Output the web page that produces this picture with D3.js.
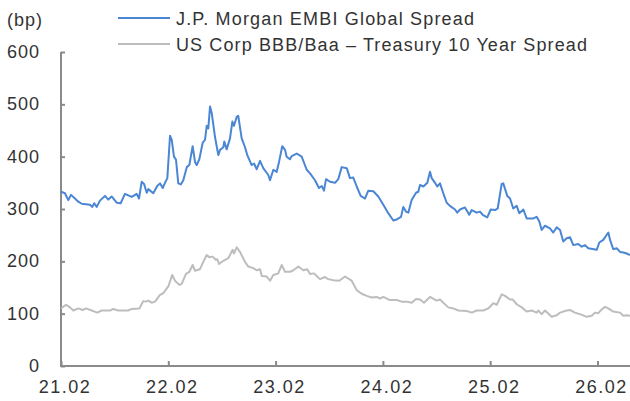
<!DOCTYPE html>
<html><head><meta charset="utf-8">
<script src="https://cdn.jsdelivr.net/npm/d3@7"></script>
<style>body{margin:0;background:#fff}svg{display:block}text{font-family:"Liberation Sans",Arial,sans-serif;fill:#333}</style>
</head><body>
<script>
// decimal-year dates
const embiDates = [2021.083,2021.120,2021.151,2021.176,2021.213,2021.244,2021.276,2021.353,2021.375,2021.393,2021.416,2021.446,2021.493,2021.524,2021.555,2021.602,2021.639,2021.679,2021.742,2021.788,2021.810,2021.835,2021.857,2021.882,2021.897,2021.943,2021.980,2022.006,2022.031,2022.052,2022.074,2022.099,2022.115,2022.136,2022.155,2022.176,2022.199,2022.223,2022.255,2022.279,2022.310,2022.332,2022.348,2022.372,2022.404,2022.425,2022.441,2022.456,2022.472,2022.488,2022.518,2022.549,2022.565,2022.596,2022.605,2022.627,2022.658,2022.680,2022.695,2022.721,2022.735,2022.767,2022.798,2022.819,2022.860,2022.882,2022.907,2022.938,2022.968,2023.015,2023.031,2023.062,2023.093,2023.115,2023.145,2023.171,2023.186,2023.217,2023.233,2023.280,2023.326,2023.373,2023.404,2023.450,2023.487,2023.513,2023.534,2023.553,2023.590,2023.637,2023.667,2023.699,2023.746,2023.776,2023.807,2023.839,2023.876,2023.916,2023.947,2023.994,2024.040,2024.087,2024.133,2024.180,2024.212,2024.252,2024.273,2024.298,2024.320,2024.351,2024.392,2024.413,2024.429,2024.460,2024.497,2024.522,2024.538,2024.569,2024.590,2024.615,2024.646,2024.678,2024.708,2024.755,2024.776,2024.802,2024.848,2024.888,2024.911,2024.957,2024.988,2025.013,2025.056,2025.088,2025.128,2025.153,2025.190,2025.205,2025.242,2025.268,2025.298,2025.330,2025.354,2025.392,2025.423,2025.485,2025.516,2025.541,2025.563,2025.594,2025.640,2025.671,2025.703,2025.734,2025.764,2025.796,2025.827,2025.858,2025.904,2025.936,2025.967,2025.997,2026.076,2026.100,2026.137,2026.184,2026.200,2026.230,2026.262,2026.293,2026.324,2026.355,2026.386];
const embiValues = [333,330,317,327,320,314,310,308,304,311,304,316,325,318,324,312,311,329,323,329,320,352,348,331,338,330,344,349,340,350,359,440,432,400,394,349,347,355,380,384,420,390,384,395,427,432,459,454,496,483,438,403,413,418,429,414,435,467,459,476,478,435,418,403,384,387,376,392,378,365,355,375,371,390,420,413,400,395,401,406,400,375,368,355,340,344,335,357,352,350,357,380,378,359,360,343,325,320,335,334,324,308,292,278,280,285,304,295,293,317,331,333,346,343,350,371,359,350,343,349,330,312,306,299,293,299,303,289,298,293,295,289,284,299,298,301,348,349,325,320,301,306,292,299,282,282,285,276,260,268,263,255,265,260,238,244,246,231,233,228,231,225,222,236,241,255,241,223,225,218,217,215,212];

const corpDates = [2021.083,2021.130,2021.167,2021.198,2021.244,2021.285,2021.316,2021.369,2021.421,2021.462,2021.540,2021.570,2021.617,2021.710,2021.742,2021.813,2021.850,2021.875,2021.897,2021.928,2021.959,2022.006,2022.036,2022.083,2022.120,2022.145,2022.186,2022.208,2022.248,2022.279,2022.310,2022.332,2022.378,2022.409,2022.441,2022.465,2022.497,2022.525,2022.540,2022.556,2022.596,2022.642,2022.683,2022.695,2022.721,2022.751,2022.798,2022.829,2022.875,2022.907,2022.938,2022.954,2023.000,2023.031,2023.062,2023.108,2023.140,2023.171,2023.217,2023.248,2023.295,2023.341,2023.378,2023.404,2023.441,2023.466,2023.497,2023.543,2023.574,2023.621,2023.677,2023.730,2023.792,2023.839,2023.885,2023.932,2023.979,2024.025,2024.056,2024.087,2024.149,2024.212,2024.258,2024.305,2024.351,2024.392,2024.429,2024.466,2024.522,2024.584,2024.615,2024.646,2024.693,2024.739,2024.786,2024.864,2024.911,2024.957,2025.019,2025.065,2025.112,2025.144,2025.190,2025.221,2025.268,2025.293,2025.330,2025.377,2025.423,2025.470,2025.516,2025.531,2025.563,2025.594,2025.656,2025.703,2025.734,2025.796,2025.827,2025.873,2025.920,2025.982,2026.029,2026.060,2026.090,2026.122,2026.153,2026.184,2026.230,2026.293,2026.324,2026.355,2026.386];
const corpValues = [110,117,112,106,110,107,110,106,102,106,106,109,106,106,109,110,124,123,125,121,123,136,139,152,174,163,155,157,176,180,193,182,185,199,212,208,209,203,204,195,201,206,222,215,227,218,199,190,187,183,185,172,171,163,174,177,193,180,180,183,190,183,185,176,177,172,166,170,166,164,163,171,163,145,138,134,131,132,129,132,126,126,123,123,121,128,127,121,132,125,127,121,112,110,106,105,102,106,106,110,120,117,137,134,127,127,118,112,104,106,102,106,99,106,94,97,102,106,107,102,99,94,96,102,101,108,113,110,104,102,96,97,96];

const xTickValues = [2021.083,2022.083,2023.083,2024.083,2025.083,2026.083];
const xTickLabels = ["21.02","22.02","23.02","24.02","25.02","26.02"];
const yTickValues = [0,100,200,300,400,500,600];
const seriesNames = ["J.P. Morgan EMBI Global Spread","US Corp BBB/Baa \u2013 Treasury 10 Year Spread"];
const seriesColors = ["#4a86d4","#bdbdbd"];

const W = 630, H = 401;
const svg = d3.select("body").append("svg").attr("width", W).attr("height", H);
const x = d3.scaleLinear().domain([2021.083, 2026.386]).range([61, 630]);
const y = d3.scaleLinear().domain([0, 600]).range([366, 52]);

const axisColor = "#8a8a8a";
// y axis
const gy = svg.append("g").attr("transform", "translate(61,0)")
  .call(d3.axisRight(y).tickValues(yTickValues).tickSize(4).tickFormat(""));
gy.select(".domain").attr("stroke", axisColor).attr("stroke-width", 2).attr("d", `M0,${y(600)}V${y(0)}`);
gy.selectAll(".tick line").attr("stroke", axisColor).attr("stroke-width", 2);
svg.append("g").selectAll("text").data(yTickValues).join("text")
  .attr("x", 40).attr("y", d => y(d) + 6).attr("text-anchor", "end")
  .attr("font-size", 18).style("letter-spacing", "1px").text(d => d);

// x axis
const gx = svg.append("g").attr("transform", "translate(0,366)")
  .call(d3.axisTop(x).tickValues(xTickValues).tickSize(5).tickFormat(""));
gx.select(".domain").attr("stroke", axisColor).attr("stroke-width", 2).attr("d", `M60,0H630`);
gx.selectAll(".tick line").attr("stroke", axisColor).attr("stroke-width", 2);
svg.append("g").selectAll("text").data(xTickValues).join("text")
  .attr("x", d => x(d) + 4).attr("y", 393).attr("text-anchor", "middle")
  .attr("font-size", 18).style("letter-spacing", "1.5px").text((d, i) => xTickLabels[i]);

// (bp)
svg.append("text").attr("x", 7).attr("y", 26).attr("font-size", 18)
  .style("letter-spacing", "1px").text("(bp)");

// lines
const line = d3.line().x(d => x(d[0])).y(d => y(d[1]));
const corp = corpDates.map((d, i) => [d, corpValues[i]]);
const embi = embiDates.map((d, i) => [d, embiValues[i]]);
svg.append("path").datum(corp).attr("d", line).attr("fill", "none").attr("stroke", seriesColors[1]).attr("stroke-width", 2).attr("stroke-linejoin", "round");
svg.append("path").datum(embi).attr("d", line).attr("fill", "none").attr("stroke", seriesColors[0]).attr("stroke-width", 2).attr("stroke-linejoin", "round");

// legend
const legendLengths = [298, 411];
const leg = svg.append("g");
seriesNames.forEach((name, i) => {
  const ly = 18 + i * 26;
  leg.append("line").attr("x1", 118).attr("x2", 170).attr("y1", ly).attr("y2", ly)
    .attr("stroke", seriesColors[i]).attr("stroke-width", 2);
  leg.append("text").attr("x", 176).attr("y", ly + 7).attr("font-size", 18)
    .attr("textLength", legendLengths[i]).attr("lengthAdjust", "spacing").text(name);
});
</script>
</body></html>
